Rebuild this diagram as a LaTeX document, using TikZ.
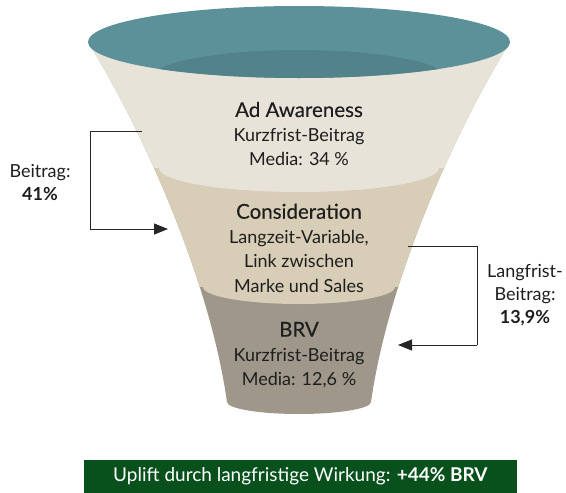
\documentclass[tikz,border=0pt]{standalone}
\usepackage{fontspec}
\setmainfont{Lato}
\usetikzlibrary{arrows.meta}

\definecolor{topteal}{RGB}{93,145,153}
\definecolor{innerteal}{RGB}{82,131,138}
\definecolor{bandone}{RGB}{232,227,217}
\definecolor{bandtwo}{RGB}{216,205,182}
\definecolor{bandthree}{RGB}{158,151,138}
\definecolor{upliftgreen}{RGB}{8,80,28}
\definecolor{inktext}{RGB}{30,30,30}

\newcommand{\funnelpath}{(88,42) .. controls (128,105) and (207,262) .. (227,402)
  arc[start angle=180, end angle=360, x radius=72pt, y radius=12pt]
  .. controls (391,262) and (470,105) .. (510,42) -- cycle}
\newcommand{\stagehead}[1]{{\fontsize{20.5}{21}\selectfont\addfontfeatures{FakeBold=0.2}#1}}

\begin{document}
\begin{tikzpicture}[x=1pt,y=-1pt,
    stagetext/.style={align=center,text=inktext,font=\fontsize{18}{24.5}\selectfont},
    sidelabel/.style={align=center,text=inktext,font=\fontsize{18}{23}\selectfont},
    flowline/.style={draw=black!85,line width=0.8pt},
    flowarrow/.style={flowline,-{Triangle[length=14pt,width=11pt]}}]

  \useasboundingbox (0,0) rectangle (566,493);

  % funnel bands
  \begin{scope}
    \clip \funnelpath;
    \fill[bandthree] (0,0) rectangle (566,440);
    \fill[bandtwo] (0,0) rectangle (566,287);
    \fill[bandtwo] (299,287) ellipse [x radius=96pt, y radius=17pt];
    \fill[bandone] (0,0) rectangle (566,168);
    \fill[bandone] (299,168) ellipse [x radius=140pt, y radius=24pt];
  \end{scope}

  % opening on top
  \fill[topteal] (299,42) ellipse [x radius=211pt, y radius=36pt];
  \begin{scope}
    \clip (299,42) ellipse [x radius=211pt, y radius=36pt];
    \fill[innerteal] (299,78) ellipse [x radius=147pt, y radius=28pt];
  \end{scope}

  % stage texts
  \node[stagetext] (aware) at (299,134) {\stagehead{Ad Awareness}\\Kurzfrist-Beitrag\\Media: 34 \%};
  \node[stagetext] (consid) at (299,248) {\stagehead{Consideration}\\Langzeit-Variable,\\Link zwischen\\Marke und Sales};
  \node[stagetext] (brv) at (299,355) {\stagehead{BRV}\\Kurzfrist-Beitrag\\Media: 12,6 \%};

  % side labels
  \node[sidelabel] (leftlabel) at (40,183) {Beitrag:\\\textbf{41\%}};
  \node[sidelabel] (rightlabel) at (525,295) {Langfrist-\\Beitrag:\\\textbf{13,9\%}};

  % connectors
  \coordinate (lstart) at (142,131);
  \coordinate (lcorner) at (90,229);
  \coordinate (lend) at (168,229);
  \coordinate (rstart) at (408,246);
  \coordinate (rcorner) at (477,345);
  \coordinate (rend) at (398,345);
  \draw[flowline] (lstart) -| (lcorner);
  \draw[flowarrow] (lcorner) -- (lend);
  \draw[flowline] (rstart) -| (rcorner);
  \draw[flowarrow] (rcorner) -- (rend);

  % result bar
  \node[fill=upliftgreen,text=white,minimum width=433pt,minimum height=33pt,
        inner sep=0pt,font=\fontsize{19}{20}\selectfont] (uplift) at (300.5,476.5)
        {Uplift durch langfristige Wirkung: \textbf{+44\% BRV}};
\end{tikzpicture}
\end{document}
